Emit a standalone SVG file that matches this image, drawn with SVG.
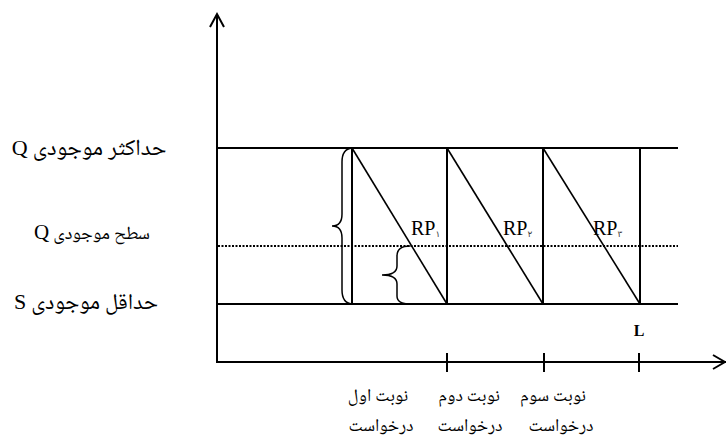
<svg xmlns="http://www.w3.org/2000/svg" width="726" height="443" viewBox="0 0 726 443">
<style>
.ln{stroke:#000;stroke-width:2;fill:none}
.dg{stroke:#000;stroke-width:1.6;fill:none}
.br{stroke:#000;stroke-width:1.5;fill:none}
.fa{font-family:"Noto Naskh Arabic","Noto Sans Arabic","Liberation Serif","DejaVu Sans",serif;fill:#000}
.lat{font-family:"Liberation Serif",serif;fill:#000}
</style>
<rect width="726" height="443" fill="#fff"/>
<g id="axes">
<line class="ln" x1="217" y1="14" x2="217" y2="363"/>
<line class="ln" x1="216" y1="362" x2="726" y2="362"/>
<polyline class="ln" points="210,27 217,14 224,27"/>
<polyline class="ln" points="713,355 725,362 713,369"/>
<line class="ln" x1="447" y1="353" x2="447" y2="372"/>
<line class="ln" x1="544" y1="353" x2="544" y2="372"/>
<line class="ln" x1="639" y1="353" x2="639" y2="372"/>
</g>
<g id="levels">
<line class="ln" x1="217" y1="148" x2="678" y2="148"/>
<line class="ln" x1="217" y1="304" x2="678" y2="304"/>
<line x1="218" y1="246" x2="678" y2="246" stroke="#000" stroke-width="2" stroke-dasharray="2,1.5"/>
</g>
<g id="connectors">
<line class="ln" x1="352" y1="148" x2="352" y2="304"/>
<line class="ln" x1="447" y1="148" x2="447" y2="304"/>
<line class="ln" x1="543" y1="148" x2="543" y2="304"/>
<line class="ln" x1="640" y1="148" x2="640" y2="304"/>
<line class="dg" x1="352" y1="148" x2="447" y2="304"/>
<line class="dg" x1="447" y1="148" x2="543" y2="304"/>
<line class="dg" x1="543" y1="148" x2="640" y2="304"/>
</g>
<g id="braces">
<path class="br" d="M352,148 Q342,149 342,162 L342,214 Q342,226 332,226 Q342,226 342,238 L342,290 Q342,303 352,304"/>
<path class="br" d="M410,246 Q397,246 397,256 L397,266 Q397,275 382,275 Q397,275 397,284 L397,296 Q397,304 410,304"/>
</g>
<g id="labels">
<text class="fa" x="89" y="155" font-size="23" text-anchor="middle" direction="rtl">حداکثر موجودی <tspan class="lat" font-size="22">Q</tspan></text>
<text class="fa" x="92" y="239" font-size="18.5" text-anchor="middle" direction="rtl">سطح موجودی <tspan class="lat" font-size="21">Q</tspan></text>
<text class="fa" x="86" y="309" font-size="22.5" text-anchor="middle" direction="rtl">حداقل موجودی <tspan class="lat" font-size="22">S</tspan></text>
<text class="lat" x="411" y="235" font-size="20">RP<tspan font-size="9" dy="2" font-family="DejaVu Sans,sans-serif" fill="#444">۱</tspan></text>
<text class="lat" x="503" y="235" font-size="20">RP<tspan font-size="9" dy="2" font-family="DejaVu Sans,sans-serif" fill="#444">۲</tspan></text>
<text class="lat" x="593" y="235" font-size="20">RP<tspan font-size="9" dy="2" font-family="DejaVu Sans,sans-serif" fill="#444">۳</tspan></text>
<text class="lat" x="639" y="336" font-size="16" font-weight="bold" text-anchor="middle">L</text>
<text class="fa" x="378" y="401" font-size="18" text-anchor="middle" direction="rtl">نوبت اول</text>
<text class="fa" x="469" y="401" font-size="18" text-anchor="middle" direction="rtl">نوبت دوم</text>
<text class="fa" x="553" y="401" font-size="18" text-anchor="middle" direction="rtl">نوبت سوم</text>
<text class="fa" x="381" y="431" font-size="18" text-anchor="middle" direction="rtl">درخواست</text>
<text class="fa" x="470" y="431" font-size="18" text-anchor="middle" direction="rtl">درخواست</text>
<text class="fa" x="561" y="431" font-size="18" text-anchor="middle" direction="rtl">درخواست</text>
</g>
</svg>
